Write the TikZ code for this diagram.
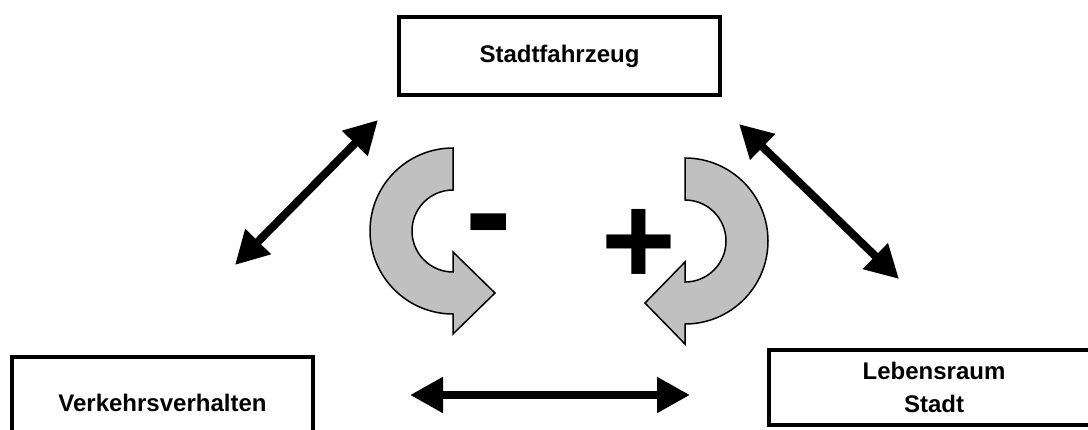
\documentclass[tikz,border=0pt]{standalone}
\usepackage{fontspec}
\setmainfont{Liberation Sans}
\usetikzlibrary{arrows.meta}
\definecolor{turnfill}{RGB}{192,192,192}

\begin{document}
\begin{tikzpicture}[
  x=1pt, y=-1pt,
  box/.style  = {draw, line width=4pt, inner sep=0pt, align=center,
                 font=\fontsize{24}{33}\selectfont\bfseries},
  link/.style = {{Triangle[length=33pt,width=34pt]}-{Triangle[length=33pt,width=34pt]},
                 line width=8pt},
  turn/.style = {fill=turnfill, draw=black, line width=1.5pt, line join=miter},
  sign/.style = {inner sep=0pt, anchor=base, font=\bfseries}
]
  \useasboundingbox (0,0) rectangle (1088,429);

  % the three boxes
  \node[box, minimum width=321pt, minimum height=78pt] (car)  at (559.5,56)  {Stadtfahrzeug};
  \node[box, minimum width=301pt, minimum height=91pt] (move) at (162.5,402.5) {Verkehrsverhalten};
  \node[box, minimum width=330pt, minimum height=75pt] (city) at (934,387.5) {Lebensraum\\Stadt};

  % loose ends of the double arrows
  \coordinate (ltop) at (378,120);
  \coordinate (lbot) at (235,265);
  \coordinate (rtop) at (739,124);
  \coordinate (rbot) at (899,279);
  \coordinate (hlft) at (410,395);
  \coordinate (hrgt) at (690,395);

  % turning arrows
  \draw[turn] (453,148) arc[start angle=270, end angle=90, radius=83]
    -- (453,334) -- (495,293) -- (453,252) -- (453,272)
    arc[start angle=90, end angle=270, radius=41] -- cycle;
  \draw[turn] (685,158) arc[start angle=270, end angle=450, radius=83]
    -- (685,344) -- (645,303) -- (685,262) -- (685,282)
    arc[start angle=90, end angle=-90, radius=41] -- cycle;

  % signs
  \node[sign, font=\bfseries\fontsize{140}{140}\selectfont] (minus) at (489,258.5) {-};
  \node[sign, font=\bfseries\fontsize{128}{128}\selectfont] (plus)  at (638.5,284) {+};

  % double arrows
  \draw[link] (ltop) -- (lbot);
  \draw[link] (rtop) -- (rbot);
  \draw[link] (hlft) -- (hrgt);
\end{tikzpicture}
\end{document}
